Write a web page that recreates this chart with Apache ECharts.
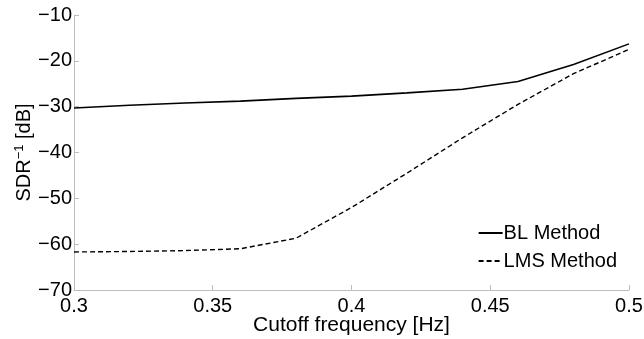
<!DOCTYPE html>
<html>
<head>
<meta charset="utf-8">
<title>SDR vs cutoff</title>
<script src="https://cdn.jsdelivr.net/npm/echarts@6/dist/echarts.min.js"></script>
</head>
<body style="margin:0;background:#fff">
<div id="container" style="width:644px;height:339px;"></div>
<script type="text/javascript">
// cutoff frequency [Hz]
var freq = [0.30, 0.32, 0.34, 0.36, 0.38, 0.40, 0.42, 0.44, 0.46, 0.48, 0.50];
// SDR^-1 [dB]
var blMethod = [-30.3, -29.7, -29.2, -28.8, -28.2, -27.7, -27.0, -26.2, -24.5, -20.8, -16.3];
var lmsMethod = [-61.7, -61.6, -61.4, -61.0, -58.7, -52.0, -44.5, -36.8, -29.5, -22.8, -17.5];
var seriesNames = ['BL Method', 'LMS Method'];

function pairs(ys) {
    var out = [];
    for (var i = 0; i < freq.length; i++) out.push([freq[i], ys[i]]);
    return out;
}

var font = 'Liberation Sans, Arial, sans-serif';
var axisGrey = '#bdbdbd';

var option = {
    animation: false,
    grid: { left: 74, right: 15, top: 15, bottom: 49, containLabel: false, outerBoundsMode: 'none' },
    legend: {
        right: 22, top: 218,
        orient: 'vertical',
        itemWidth: 24, itemHeight: 2, itemGap: 8,
        itemStyle: { opacity: 0 },
        textStyle: { fontFamily: font, fontSize: 20, color: '#000', padding: [0, 0, 0, -4] },
        data: seriesNames
    },
    xAxis: {
        type: 'value',
        min: 0.3, max: 0.5, interval: 0.05,
        name: 'Cutoff frequency [Hz]',
        nameLocation: 'middle', nameGap: 25, nameMoveOverlap: false,
        nameTextStyle: { fontFamily: font, fontSize: 21, color: '#000' },
        axisLine: { show: true, lineStyle: { color: axisGrey, width: 1 } },
        axisTick: { show: true, inside: true, length: 5, lineStyle: { color: axisGrey } },
        splitLine: { show: false },
        axisLabel: {
            fontFamily: font, fontSize: 20, color: '#000', margin: 6,
            formatter: function (v) { return String(+v.toFixed(2)); }
        }
    },
    yAxis: {
        type: 'value',
        min: -70, max: -10, interval: 10,
        name: 'SDR{sup|\u22121} [dB]',
        nameLocation: 'middle', nameGap: 39, nameRotate: 90, nameMoveOverlap: false,
        nameTextStyle: {
            fontFamily: font, fontSize: 20, color: '#000',
            rich: { sup: { fontFamily: font, fontSize: 13, color: '#000', verticalAlign: 'top', padding: [0, 0, 9, 0] } }
        },
        axisLine: { show: true, lineStyle: { color: axisGrey, width: 1 } },
        axisTick: { show: true, inside: true, length: 5, lineStyle: { color: axisGrey } },
        splitLine: { show: false },
        axisLabel: {
            fontFamily: font, fontSize: 20, color: '#000', margin: 2,
            formatter: function (v) { return String(v).replace('-', '\u2212'); }
        }
    },
    series: [
        {
            name: seriesNames[0], type: 'line', symbol: 'none',
            lineStyle: { color: '#000', width: 1.6, type: 'solid' },
            itemStyle: { color: '#000' },
            data: pairs(blMethod)
        },
        {
            name: seriesNames[1], type: 'line', symbol: 'none',
            lineStyle: { color: '#000', width: 1.4, type: [5, 3] },
            itemStyle: { color: '#000' },
            data: pairs(lmsMethod)
        }
    ]
};

var myChart = echarts.init(document.getElementById('container'));
myChart.setOption(option);
</script>
</body>
</html>
